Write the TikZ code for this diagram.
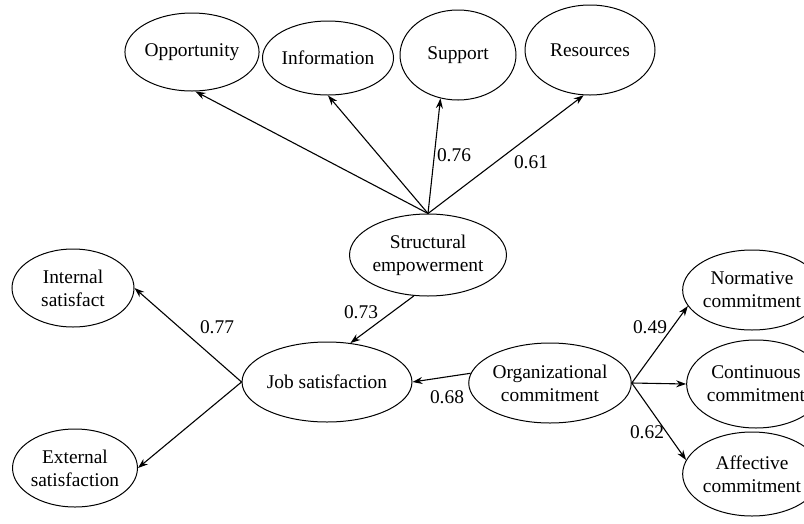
\documentclass[tikz,border=0pt]{standalone}
\usepackage{fontspec}
\setmainfont{Liberation Serif}
\usetikzlibrary{shapes.geometric,arrows.meta}

\begin{document}
\begin{tikzpicture}[x=1pt,y=-1pt,
  latent/.style={ellipse, draw, line width=1pt, inner sep=0pt, align=center,
    font=\fontsize{19.4}{23}\selectfont},
  path/.style={line width=1.1pt, -{Stealth[length=10pt,width=7pt]}},
  weight/.style={font=\fontsize{19.4}{23}\selectfont, inner sep=0pt}]
\useasboundingbox (0,0) rectangle (804,523);
% top level
\node[latent, minimum width=130, minimum height=78] (opp) at (192,52) {Opportunity};
\node[latent, minimum width=122, minimum height=74] (inf) at (328,58) {Information};
\node[latent, minimum width=116, minimum height=90] (sup) at (458,55) {Support};
\node[latent, minimum width=130, minimum height=90] (res) at (590,50) {Resources};
\node[latent, minimum width=156, minimum height=82] (se) at (428,255) {Structural\\empowerment};
% job satisfaction side
\node[latent, minimum width=122, minimum height=78] (ins) at (73,288) {Internal\\satisfact};
\node[latent, minimum width=120, minimum height=78] (exs) at (75,468) {External\\satisfaction};
\node[latent, minimum width=154, minimum height=80] (js) at (327,382) {Job satisfaction};
% commitment side
\node[latent, minimum width=156, minimum height=80] (oc) at (550,383) {Organizational\\commitment};
\node[latent, minimum width=120, minimum height=80] (nc) at (752,290) {Normative\\commitment};
\node[latent, minimum width=120, minimum height=88] (cc) at (756,384) {Continuous\\commitment};
\node[latent, minimum width=120, minimum height=84] (ac) at (752,474) {Affective\\commitment};

\draw[path] (se.north) -- (opp.-85);
\draw[path] (se.north) -- (inf.south);
\draw[path] (se.north) -- (sup.-112);
\draw[path] (se.north) -- (res.-98);
\draw[path] (se.-109) -- (js.59);
\draw[path] (js.west) -- (ins.east);
\draw[path] (js.west) -- (exs.east);
\draw[path] (oc.173) -- (js.east);
\draw[path] (oc.east) -- (nc.194);
\draw[path] (oc.east) -- (cc.west);
\draw[path] (oc.east) -- (ac.168);

\node[weight] (w76) at (454,155) {0.76};
\node[weight] (w61) at (531,162) {0.61};
\node[weight] (w73) at (361,312) {0.73};
\node[weight] (w77) at (217,327) {0.77};
\node[weight] (w68) at (447,397) {0.68};
\node[weight] (w49) at (650,327) {0.49};
\node[weight] (w62) at (647,432) {0.62};
\end{tikzpicture}
\end{document}
